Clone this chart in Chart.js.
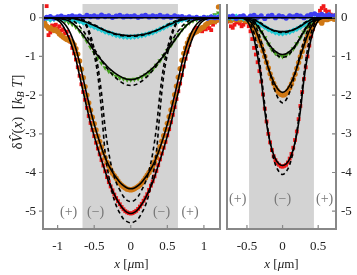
<!DOCTYPE html>
<html>
<head>
<meta charset="utf-8">
<script src="https://cdn.jsdelivr.net/npm/chart.js@4.4.1/dist/chart.umd.min.js"></script>
<style>
  html, body { margin: 0; padding: 0; background: #fff; width: 357px; height: 275px; overflow: hidden; }
  #left { position: absolute; left: 0; top: 0; }
  #right { position: absolute; left: 222px; top: 0; }
</style>
</head>
<body>
<canvas id="left" width="224" height="275"></canvas>
<canvas id="right" width="135" height="275"></canvas>
<script>
// ---- sample positions (um) ----
const xL = [-1.2,-1.15,-1.1,-1.05,-1,-0.95,-0.9,-0.85,-0.8,-0.75,-0.7,-0.65,-0.6,-0.55,-0.5,-0.45,-0.4,-0.35,-0.3,-0.25,-0.2,-0.15,-0.1,-0.05,0,0.05,0.1,0.15,0.2,0.25,0.3,0.35,0.4,0.45,0.5,0.55,0.6,0.65,0.7,0.75,0.8,0.85,0.9,0.95,1,1.05,1.1,1.15,1.2];
const xLF = [-1.2,-1.175,-1.15,-1.125,-1.1,-1.075,-1.05,-1.025,-1,-0.975,-0.95,-0.925,-0.9,-0.875,-0.85,-0.825,-0.8,-0.775,-0.75,-0.725,-0.7,-0.675,-0.65,-0.625,-0.6,-0.575,-0.55,-0.525,-0.5,-0.475,-0.45,-0.425,-0.4,-0.375,-0.35,-0.325,-0.3,-0.275,-0.25,-0.225,-0.2,-0.175,-0.15,-0.125,-0.1,-0.075,-0.05,-0.025,0,0.025,0.05,0.075,0.1,0.125,0.15,0.175,0.2,0.225,0.25,0.275,0.3,0.325,0.35,0.375,0.4,0.425,0.45,0.475,0.5,0.525,0.55,0.575,0.6,0.625,0.65,0.675,0.7,0.725,0.75,0.775,0.8,0.825,0.85,0.875,0.9,0.925,0.95,0.975,1,1.025,1.05,1.075,1.1,1.125,1.15,1.175,1.2];
const xR = [-0.75,-0.7,-0.65,-0.6,-0.55,-0.5,-0.45,-0.4,-0.35,-0.3,-0.25,-0.2,-0.15,-0.1,-0.05,0,0.05,0.1,0.15,0.2,0.25,0.3,0.35,0.4,0.45,0.5,0.55,0.6,0.65,0.7,0.75];
const xRF = [-0.775,-0.75,-0.725,-0.7,-0.675,-0.65,-0.625,-0.6,-0.575,-0.55,-0.525,-0.5,-0.475,-0.45,-0.425,-0.4,-0.375,-0.35,-0.325,-0.3,-0.275,-0.25,-0.225,-0.2,-0.175,-0.15,-0.125,-0.1,-0.075,-0.05,-0.025,0,0.025,0.05,0.075,0.1,0.125,0.15,0.175,0.2,0.225,0.25,0.275,0.3,0.325,0.35,0.375,0.4,0.425,0.45,0.475,0.5,0.525,0.55,0.575,0.6,0.625,0.65,0.675,0.7,0.725,0.75];
// half grids for the (symmetric) model curves
const hL = [0,0.05,0.1,0.15,0.2,0.25,0.3,0.35,0.4,0.45,0.5,0.55,0.6,0.65,0.7,0.75,0.8,0.85,0.9,0.95,1,1.05,1.1,1.15,1.2,1.25];
const hR = [0,0.05,0.1,0.15,0.2,0.25,0.3,0.35,0.4,0.45,0.5,0.55,0.6,0.65,0.7,0.75,0.8];

// ---- left panel, measured dV (kT) ----
const blueL = [-0.02,0.01,0.03,-0.01,0.02,0.04,0.01,0.03,0.05,0.02,0.04,0.01,0.06,0.03,0.05,0.02,0.07,0.03,0.05,0.01,0.04,0.06,0.02,0.04,0.03,0.05,0.01,0.04,0.06,0.02,0.05,0.03,0.06,0.02,0.04,0.01,0.05,0.02,0.03,0.00,0.02,-0.01,0.01,-0.02,0.01,-0.01,0.02,0.00,0.01];
const cyanL = [-0.04,-0.02,-0.05,-0.03,-0.02,-0.04,-0.03,-0.05,-0.06,-0.08,-0.10,-0.13,-0.16,-0.20,-0.24,-0.28,-0.32,-0.36,-0.39,-0.42,-0.45,-0.47,-0.49,-0.50,-0.50,-0.49,-0.48,-0.46,-0.44,-0.41,-0.38,-0.34,-0.30,-0.26,-0.21,-0.17,-0.13,-0.09,-0.06,-0.04,-0.03,-0.02,-0.01,-0.02,0.00,-0.01,0.01,0.02,0.03];
const greenL = [-0.05,-0.02,-0.04,-0.03,-0.02,-0.05,-0.08,-0.12,-0.17,-0.24,-0.34,-0.47,-0.61,-0.76,-0.90,-1.04,-1.17,-1.29,-1.38,-1.45,-1.51,-1.55,-1.58,-1.60,-1.60,-1.59,-1.57,-1.53,-1.48,-1.41,-1.33,-1.23,-1.11,-0.98,-0.85,-0.71,-0.57,-0.44,-0.31,-0.21,-0.13,-0.08,-0.05,-0.03,-0.02,0.01,0.03,0.08,0.12];
const orangeL = [-0.08,-0.15,-0.22,-0.28,-0.26,-0.30,-0.33,-0.31,-0.36,-0.42,-0.46,-0.50,-0.53,-0.56,-0.58,-0.60,-0.63,-0.70,-0.80,-0.94,-1.12,-1.33,-1.55,-1.78,-2.00,-2.20,-2.39,-2.57,-2.74,-2.90,-3.06,-3.20,-3.34,-3.48,-3.62,-3.74,-3.84,-3.93,-4.02,-4.08,-4.15,-4.22,-4.28,-4.33,-4.37,-4.40,-4.43,-4.44,-4.45,-4.44,-4.42,-4.39,-4.36,-4.32,-4.27,-4.21,-4.14,-4.07,-4.00,-3.92,-3.83,-3.73,-3.61,-3.47,-3.33,-3.19,-3.05,-2.89,-2.73,-2.56,-2.38,-2.19,-1.99,-1.77,-1.54,-1.32,-1.10,-0.92,-0.78,-0.65,-0.55,-0.46,-0.42,-0.38,-0.36,-0.33,-0.30,-0.26,-0.24,-0.18,-0.15,-0.12,-0.10,-0.08,-0.10,-0.06,0.28];
const redL = [-0.04,-0.12,0.30,-0.45,-0.38,-0.20,-0.24,-0.18,-0.28,-0.22,-0.33,-0.30,-0.40,-0.36,-0.50,-0.62,-0.78,-0.92,-1.08,-1.28,-1.50,-1.72,-1.92,-2.12,-2.33,-2.54,-2.72,-2.90,-3.06,-3.23,-3.38,-3.53,-3.68,-3.82,-3.97,-4.12,-4.25,-4.36,-4.46,-4.57,-4.66,-4.74,-4.82,-4.89,-4.95,-5.00,-5.03,-5.05,-5.06,-5.05,-5.02,-4.99,-4.94,-4.88,-4.81,-4.73,-4.65,-4.56,-4.45,-4.34,-4.23,-4.10,-3.96,-3.81,-3.66,-3.51,-3.36,-3.21,-3.04,-2.88,-2.70,-2.51,-2.31,-2.10,-1.90,-1.70,-1.48,-1.26,-1.06,-0.88,-0.70,-0.52,-0.40,-0.31,-0.26,-0.32,-0.28,-0.35,-0.25,-0.30,-0.22,-0.27,-0.32,-0.18,-0.12,-0.08,-0.05];

// ---- left panel, model curves (half profiles, x >= 0) ----
const blueFitL = [0,0,0,0,0,0,0,0,0,0,0,0,0,0,0,0,0,0,0,0,0,0,0,0,0,0];
const cyanFitL = [-0.46,-0.458,-0.45,-0.435,-0.42,-0.395,-0.365,-0.33,-0.29,-0.245,-0.2,-0.16,-0.12,-0.085,-0.055,-0.035,-0.02,-0.01,-0.005,0,0,0,0,0,0,0];
const cyanDashL = [-0.48,-0.477,-0.47,-0.455,-0.435,-0.405,-0.37,-0.33,-0.28,-0.23,-0.18,-0.135,-0.095,-0.06,-0.035,-0.018,-0.008,-0.003,0,0,0,0,0,0,0,0];
const greenFitL = [-1.6,-1.59,-1.56,-1.51,-1.45,-1.38,-1.3,-1.2,-1.1,-0.98,-0.86,-0.72,-0.58,-0.45,-0.33,-0.22,-0.14,-0.08,-0.05,-0.03,-0.01,0,0,0,0,0];
const greenDashL = [-1.75,-1.74,-1.7,-1.64,-1.56,-1.47,-1.36,-1.24,-1.1,-0.95,-0.8,-0.64,-0.48,-0.34,-0.22,-0.13,-0.07,-0.03,-0.01,0,0,0,0,0,0,0];
const orangeFitL = [-4.42,-4.40,-4.34,-4.25,-4.13,-3.99,-3.82,-3.62,-3.36,-3.07,-2.75,-2.39,-2.0,-1.58,-1.16,-0.8,-0.52,-0.31,-0.17,-0.08,-0.03,-0.01,0,0,0,0];
const orangeDashL = [-4.75,-4.72,-4.62,-4.45,-4.25,-3.95,-3.5,-2.85,-1.95,-1.25,-0.8,-0.45,-0.2,-0.07,-0.02,0,0,0,0,0,0,0,0,0,0,0];
const redFitL = [-5.06,-5.03,-4.95,-4.82,-4.66,-4.46,-4.25,-3.97,-3.68,-3.38,-3.06,-2.72,-2.33,-1.92,-1.5,-1.08,-0.76,-0.5,-0.3,-0.15,-0.06,-0.02,0,0,0,0];
const redDashL = [-5.3,-5.27,-5.2,-5.05,-4.85,-4.55,-4.1,-3.5,-2.4,-1.5,-0.95,-0.55,-0.25,-0.08,-0.02,0,0,0,0,0,0,0,0,0,0,0];

// ---- right panel, measured dV (kT) ----
const blueR = [0.02,0.04,-0.02,0.03,0.05,-0.01,0.04,0.06,0.01,0.05,-0.02,0.04,0.06,0.00,0.05,0.03,-0.01,0.05,0.02,0.06,0.04,0.00,0.05,0.08,0.10,0.06,0.09,0.05,0.07,0.04,0.06];
const cyanR = [0.02,-0.01,0.03,0.00,-0.02,-0.03,-0.05,-0.08,-0.12,-0.18,-0.24,-0.30,-0.34,-0.38,-0.40,-0.41,-0.39,-0.37,-0.33,-0.29,-0.24,-0.18,-0.12,-0.07,-0.03,0.02,0.06,0.04,0.08,0.03,0.05];
const greenR = [-0.02,0.02,-0.03,0.01,-0.02,-0.04,-0.06,-0.12,-0.22,-0.36,-0.52,-0.68,-0.82,-0.92,-0.98,-1.00,-0.97,-0.91,-0.80,-0.67,-0.52,-0.37,-0.23,-0.12,-0.05,-0.02,0.03,0.05,0.02,0.04,0.01];
const orangeR = [-0.05,-0.03,-0.08,-0.04,-0.02,-0.05,-0.03,-0.06,-0.04,-0.05,-0.08,-0.06,-0.10,-0.14,-0.20,-0.28,-0.38,-0.48,-0.60,-0.72,-0.86,-1.00,-1.15,-1.30,-1.45,-1.58,-1.70,-1.80,-1.88,-1.94,-1.98,-2.00,-1.99,-1.95,-1.89,-1.81,-1.71,-1.59,-1.46,-1.31,-1.16,-1.01,-0.87,-0.73,-0.60,-0.48,-0.37,-0.27,-0.19,-0.12,-0.07,-0.04,-0.08,-0.14,-0.06,-0.02,-0.05,-0.03,0.02,-0.02,-0.04,-0.01];
const redR = [-0.10,-0.05,-0.22,-0.26,-0.18,-0.12,-0.08,-0.15,-0.22,-0.18,-0.10,-0.12,-0.22,-0.35,-0.55,-0.78,-0.95,-1.15,-1.38,-1.65,-1.98,-2.35,-2.68,-3.00,-3.22,-3.42,-3.58,-3.68,-3.76,-3.80,-3.84,-3.85,-3.83,-3.80,-3.74,-3.64,-3.52,-3.36,-3.16,-2.94,-2.62,-2.28,-1.92,-1.58,-1.28,-1.00,-0.72,-0.48,-0.30,-0.15,-0.05,0.05,0.18,0.25,0.30,0.20,0.12,0.16,0.08,0.04,0.06,0.02];

// ---- right panel, model curves (half profiles) ----
const blueFitR = [0,0,0,0,0,0,0,0,0,0,0,0,0,0,0,0,0];
const cyanFitR = [-0.36,-0.355,-0.34,-0.31,-0.27,-0.22,-0.16,-0.1,-0.05,-0.02,0,0,0,0,0,0,0];
const cyanDashR = [-0.38,-0.375,-0.355,-0.32,-0.27,-0.21,-0.14,-0.08,-0.04,-0.01,0,0,0,0,0,0,0];
const greenFitR = [-0.95,-0.93,-0.87,-0.78,-0.66,-0.51,-0.36,-0.22,-0.11,-0.05,-0.015,0,0,0,0,0,0];
const greenDashR = [-1.02,-1.0,-0.93,-0.82,-0.67,-0.5,-0.33,-0.19,-0.09,-0.03,0,0,0,0,0,0,0];
const orangeFitR = [-1.93,-1.88,-1.75,-1.55,-1.3,-1.0,-0.72,-0.45,-0.24,-0.1,-0.03,0,0,0,0,0,0];
const orangeDashR = [-2.2,-2.12,-1.92,-1.62,-1.28,-0.92,-0.6,-0.34,-0.16,-0.06,-0.01,0,0,0,0,0,0];
const redFitR = [-3.82,-3.78,-3.65,-3.4,-3.0,-2.4,-1.6,-1.0,-0.55,-0.25,-0.08,-0.02,0,0,0,0,0];
const redDashR = [-4.05,-3.98,-3.8,-3.45,-2.95,-2.25,-1.45,-0.82,-0.4,-0.15,-0.04,0,0,0,0,0,0];

// ---- axes, ticks, annotations ----
const yTicks = [-5,-4,-3,-2,-1,0];
const xTicksL = [-1,-0.5,0,0.5,1];
const xTicksR = [-0.5,0,0.5];
const bandL = [-0.66, 0.645];
const bandR = [-0.47, 0.44];
const marksL = [{x:-0.85, y:-5.03, t:'(+)'}, {x:-0.48, y:-5.03, t:'(\u2212)'}, {x:0.42, y:-5.03, t:'(\u2212)'}, {x:0.81, y:-5.03, t:'(+)'}];
const marksR = [{x:-0.63, y:-4.7, t:'(+)'}, {x:0, y:-4.7, t:'(\u2212)'}, {x:0.59, y:-4.7, t:'(+)'}];

const SERIF = '"Liberation Serif", "Times New Roman", serif';
const C = { blue: '#3c3cf0', cyan: '#1ec8d2', green: '#46a01e', orange: '#d07814', red: '#f01818' };

const pts = (xs, ys) => ys.map((y, i) => ({x: xs[i], y}));
const mirror = (h, v) => {
  const out = [];
  for (let i = h.length - 1; i > 0; i--) out.push({x: -h[i], y: v[i]});
  for (let i = 0; i < h.length; i++) out.push({x: h[i], y: v[i]});
  return out;
};
const marker = (data, style, color, r, order, rot) => ({
  data, showLine: false, pointStyle: style, pointRadius: r, pointRotation: rot || 0,
  pointBackgroundColor: color, pointBorderColor: color, pointBorderWidth: 0, order
});
const curve = (data, dashed) => ({
  data, showLine: true, pointRadius: 0, borderColor: '#000', borderWidth: 1.6,
  borderDash: dashed ? [4, 3] : [], cubicInterpolationMode: 'monotone', order: dashed ? 2 : 1
});

function rich(ctx, parts, x, y, rot) {
  ctx.save();
  ctx.translate(x, y);
  ctx.rotate(rot);
  let w = 0;
  parts.forEach(p => { ctx.font = p.f; w += ctx.measureText(p.t).width; });
  let cx = -w / 2;
  ctx.textBaseline = 'middle';
  ctx.textAlign = 'left';
  ctx.fillStyle = '#222';
  parts.forEach(p => { ctx.font = p.f; ctx.fillText(p.t, cx, p.dy || 0); cx += ctx.measureText(p.t).width; });
  ctx.restore();
}

const R13 = '13px ' + SERIF, I13 = 'italic 13px ' + SERIF;
const R15 = '15px ' + SERIF, I15 = 'italic 15px ' + SERIF, I10 = 'italic 10px ' + SERIF;
const xTitle = [{t:'x', f:I13}, {t:' [', f:R13}, {t:'\u03bc', f:I13}, {t:'m]', f:R13}];
const yTitle = [{t:'\u03b4', f:R15}, {t:'V\u0302', f:I15}, {t:'(', f:R15}, {t:'x', f:I15}, {t:')', f:R15}, {t:'  [', f:R15}, {t:'k', f:I15}, {t:'B', f:I10, dy:3}, {t:' T', f:I15}, {t:']', f:R15}];

const deco = {
  id: 'deco',
  beforeDatasetsDraw(chart, args, o) {
    const {ctx, chartArea: a, scales: {x}} = chart;
    const x0 = x.getPixelForValue(o.band[0]), x1 = x.getPixelForValue(o.band[1]);
    ctx.save();
    ctx.fillStyle = '#d3d3d3';
    ctx.fillRect(x0, a.top, x1 - x0, a.bottom - a.top);
    ctx.restore();
  },
  afterDraw(chart, args, o) {
    const {ctx, chartArea: a, scales: {x, y}} = chart;
    ctx.save();
    ctx.strokeStyle = '#888';
    ctx.lineWidth = 2;
    ctx.beginPath();
    ctx.moveTo(a.left, a.top); ctx.lineTo(a.left, a.bottom);
    ctx.lineTo(a.right, a.bottom); ctx.lineTo(a.right, a.top);
    ctx.stroke();
    ctx.lineWidth = 1.2;
    ctx.beginPath();
    o.xTicks.forEach(v => { const p = x.getPixelForValue(v); ctx.moveTo(p, a.bottom); ctx.lineTo(p, a.bottom - 4); });
    yTicks.forEach(v => {
      const p = y.getPixelForValue(v);
      if (o.side === 'left') { ctx.moveTo(a.left - 4, p); ctx.lineTo(a.left, p); }
      else { ctx.moveTo(a.right - 4, p); ctx.lineTo(a.right, p); }
    });
    ctx.stroke();
    ctx.fillStyle = '#777';
    ctx.font = '14px ' + SERIF;
    ctx.textAlign = 'center';
    ctx.textBaseline = 'middle';
    o.marks.forEach(m => ctx.fillText(m.t, x.getPixelForValue(m.x), y.getPixelForValue(m.y)));
    rich(ctx, xTitle, (a.left + a.right) / 2, 265, 0);
    if (o.yTitle) rich(ctx, yTitle, 18, 112, -Math.PI / 2);
    ctx.restore();
  }
};

const tickFont = { family: SERIF, size: 13 };
const fmt = v => String(v);
// keep the plot area flush with the canvas edges (no room reserved for half labels)
const noPad = s => { s.paddingTop = 0; s.paddingBottom = 0; s.paddingLeft = 0; s.paddingRight = 0; };

function build(id, sets, xr, xt, band, marks, side, pad) {
  return new Chart(document.getElementById(id), {
    type: 'scatter',
    data: { datasets: sets },
    options: {
      responsive: false,
      animation: false,
      events: [],
      layout: { padding: pad },
      plugins: {
        legend: { display: false },
        tooltip: { enabled: false },
        deco: { band, marks, side, xTicks: xt, yTitle: side === 'left' }
      },
      scales: {
        x: {
          type: 'linear', min: xr[0], max: xr[1],
          afterBuildTicks: s => { s.ticks = xt.map(v => ({value: v})); },
          afterFit: s => { s.height = 46; noPad(s); },
          grid: { display: false, drawTicks: false },
          border: { display: false },
          ticks: { padding: 10, font: tickFont, color: '#222', callback: fmt, maxRotation: 0, autoSkip: false }
        },
        y: {
          type: 'linear', position: side, min: -5.46, max: 0.355,
          afterBuildTicks: s => { s.ticks = yTicks.map(v => ({value: v})); },
          afterFit: s => { s.width = side === 'left' ? 43 : 21; noPad(s); },
          grid: { display: false, drawTicks: false },
          border: { display: false },
          ticks: { padding: side === 'left' ? 7 : 5, font: tickFont, color: '#222', callback: fmt, autoSkip: false }
        }
      }
    },
    plugins: [deco]
  });
}

build('left', [
  curve(mirror(hL, blueFitL)), curve(mirror(hL, cyanFitL)), curve(mirror(hL, greenFitL)),
  curve(mirror(hL, orangeFitL)), curve(mirror(hL, redFitL)),
  curve(mirror(hL, cyanDashL), true), curve(mirror(hL, greenDashL), true),
  curve(mirror(hL, orangeDashL), true), curve(mirror(hL, redDashL), true),
  marker(pts(xL, blueL), 'circle', C.blue, 2.6, 6),
  marker(pts(xL, cyanL), 'rectRot', C.cyan, 3, 7),
  marker(pts(xL, greenL), 'triangle', C.green, 3, 8, 180),
  marker(pts(xLF, orangeL), 'circle', C.orange, 2.7, 9),
  marker(pts(xLF, redL), 'rect', C.red, 2.7, 10)
], [-1.2, 1.22], xTicksL, bandL, marksL, 'left', { top: 0, right: 4, left: 0, bottom: 0 });

build('right', [
  curve(mirror(hR, blueFitR)), curve(mirror(hR, cyanFitR)), curve(mirror(hR, greenFitR)),
  curve(mirror(hR, orangeFitR)), curve(mirror(hR, redFitR)),
  curve(mirror(hR, cyanDashR), true), curve(mirror(hR, greenDashR), true),
  curve(mirror(hR, orangeDashR), true), curve(mirror(hR, redDashR), true),
  marker(pts(xR, blueR), 'circle', C.blue, 2.6, 6),
  marker(pts(xR, cyanR), 'rectRot', C.cyan, 3, 7),
  marker(pts(xR, greenR), 'triangle', C.green, 3, 8, 180),
  marker(pts(xRF, orangeR), 'circle', C.orange, 2.7, 9),
  marker(pts(xRF, redR), 'rect', C.red, 2.7, 10)
], [-0.78, 0.75], xTicksR, bandR, marksR, 'right', { top: 0, right: 0, left: 5, bottom: 0 });
</script>
</body>
</html>
